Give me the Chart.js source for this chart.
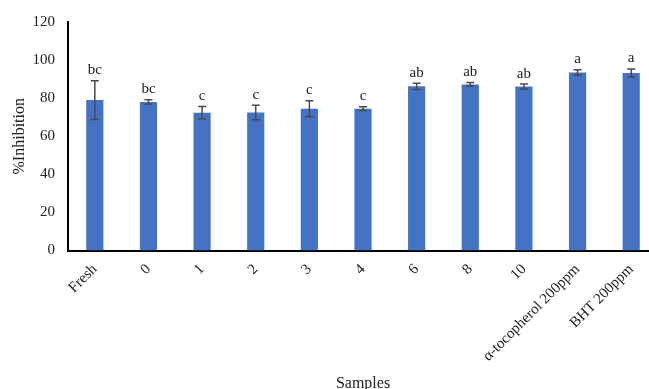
<!DOCTYPE html>
<html>
<head>
<meta charset="utf-8">
<script src="https://cdn.jsdelivr.net/npm/chart.js@4/dist/chart.umd.min.js"></script>
<style>
  html, body { margin: 0; padding: 0; background: #fff; overflow: hidden; }
  #wrap { width: 660px; height: 389px; }
</style>
</head>
<body>
<div id="wrap"><canvas id="c" width="660" height="389"></canvas></div>
<script>
// Antioxidant activity (%Inhibition) per sample, mean ± SD with significance letters
const samples = ['Fresh', '0', '1', '2', '3', '4', '6', '8', '10', 'α-tocopherol 200ppm', 'BHT 200ppm'];
const inhibition = [79.0, 78.0, 72.4, 72.5, 74.5, 74.5, 86.2, 87.2, 86.1, 93.5, 93.2];
const stdDev = [10.2, 1.2, 3.2, 3.8, 4.2, 1.0, 1.6, 1.0, 1.3, 1.4, 2.1];
const groups = ['bc', 'bc', 'c', 'c', 'c', 'c', 'ab', 'ab', 'ab', 'a', 'a'];
const yTicks = [0, 20, 40, 60, 80, 100, 120];

const serif = '"Liberation Serif", "Times New Roman", serif';

// Error bars and group letters above each bar
const errorBarPlugin = {
  id: 'errorBars',
  afterDatasetsDraw(chart) {
    const ctx = chart.ctx;
    const xs = chart.scales.x, ys = chart.scales.y;
    ctx.save();
    inhibition.forEach((v, i) => {
      const x = xs.getPixelForValue(i);
      const yHi = ys.getPixelForValue(v + stdDev[i]);
      const yLo = ys.getPixelForValue(v - stdDev[i]);
      ctx.strokeStyle = '#4a4a4a';
      ctx.lineWidth = 1.5;
      ctx.beginPath();
      ctx.moveTo(x, yHi); ctx.lineTo(x, yLo);
      ctx.moveTo(x - 4, yHi); ctx.lineTo(x + 4, yHi);
      ctx.moveTo(x - 4, yLo); ctx.lineTo(x + 4, yLo);
      ctx.stroke();
      ctx.fillStyle = '#222';
      ctx.font = '15px ' + serif;
      ctx.textAlign = 'center';
      ctx.textBaseline = 'bottom';
      ctx.fillText(groups[i], x, yHi - 3);
    });
    ctx.restore();
  }
};

new Chart(document.getElementById('c'), {
  type: 'bar',
  data: {
    labels: samples,
    datasets: [{
      data: inhibition,
      backgroundColor: '#4472C4',
      barPercentage: 0.32,
      categoryPercentage: 1.0
    }]
  },
  options: {
    responsive: false,
    devicePixelRatio: 1,
    animation: false,
    layout: { padding: { top: 22, left: 0, right: 2, bottom: 0 } },
    plugins: { legend: { display: false }, tooltip: { enabled: false } },
    scales: {
      x: {
        grid: { display: false },
        border: { display: true, color: '#000', width: 2 },
        ticks: {
          color: '#222',
          font: { family: serif, size: 15 },
          minRotation: 45,
          maxRotation: 45,
          autoSkip: false,
          padding: 2
        },
        title: {
          display: true,
          text: 'Samples',
          color: '#222',
          font: { family: serif, size: 16 },
          padding: { top: 0, bottom: -4 }
        },
        afterFit(scale) { scale.height = 138.5; }
      },
      y: {
        min: 0,
        max: 120,
        afterBuildTicks(scale) { scale.ticks = yTicks.map(v => ({ value: v })); },
        grid: { display: false },
        border: { display: true, color: '#000', width: 2 },
        ticks: {
          color: '#222',
          font: { family: serif, size: 15 },
          padding: 5
        },
        title: {
          display: true,
          text: '%Inhibition',
          color: '#222',
          font: { family: serif, size: 16 },
          padding: { top: 10, bottom: 0 }
        },
        afterFit(scale) { scale.width = 68; }
      }
    }
  },
  plugins: [errorBarPlugin]
});
</script>
</body>
</html>
